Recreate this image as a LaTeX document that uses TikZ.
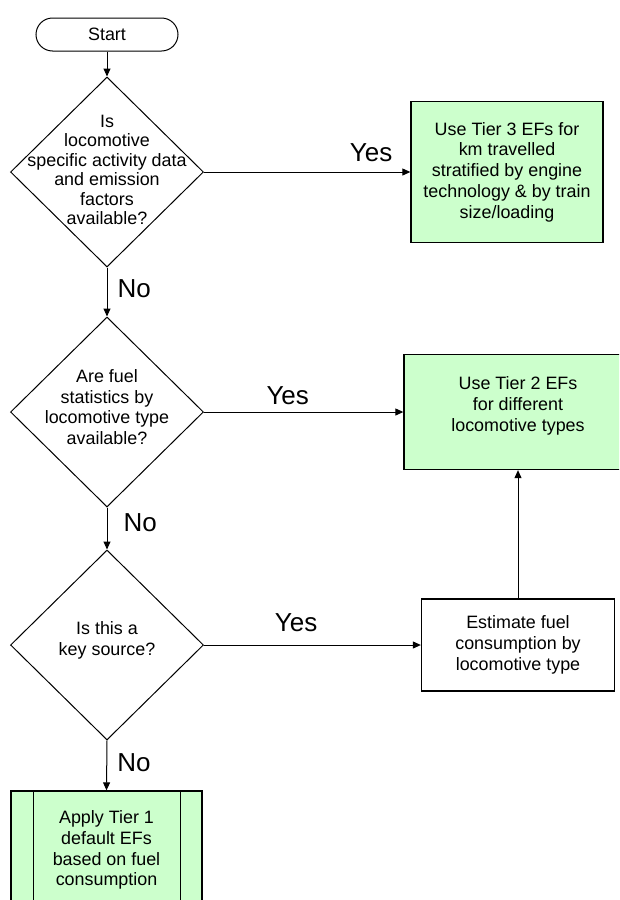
\documentclass[tikz,border=0pt]{standalone}
\usepackage{fontspec}
\setmainfont{Liberation Sans}
\usetikzlibrary{arrows.meta}
\usetikzlibrary{shapes.geometric}
\definecolor{tierfill}{HTML}{CCFFCC}

\begin{document}
\begin{tikzpicture}[x=1pt,y=-1pt,
  font=\fontsize{17.9}{20.8}\selectfont,
  every node/.style={align=center,inner sep=0pt},
  flow/.style={line width=1pt,-{Triangle[length=8pt,width=7pt]}},
  decide/.style={draw,shape=diamond,line width=1pt,minimum width=193pt,minimum height=190pt},
  greenbox/.style={draw,line width=1.3pt,fill=tierfill},
  answer/.style={font=\fontsize{26}{26}\selectfont}]
\useasboundingbox (0,0) rectangle (619,900);
\clip (0,0) rectangle (619,900);

% left column
\node[draw,line width=1pt,rounded corners=16.5pt,minimum width=142pt,minimum height=33pt] (start) at (107,34.5) {Start};
\node[decide,label={[yshift=2pt,font=\fontsize{17.9}{19.5}\selectfont]center:Is\\locomotive\\specific activity data\\and emission\\factors\\available?}] (locdata) at (107,172) {};
\node[decide,label={[yshift=5pt]center:Are fuel\\statistics by\\locomotive type\\available?}] (fuelstat) at (107,412) {};
\node[decide,label={[yshift=5pt]center:Is this a\\key source?}] (keysrc) at (107,645) {};
\node[greenbox,minimum width=191pt,minimum height=118pt] (tierone) at (106.5,850) {Apply Tier 1\\default EFs\\based on fuel\\consumption};
\draw[line width=1.3pt] ([xshift=23pt]tierone.north west) -- ([xshift=23pt]tierone.south west);
\draw[line width=1.3pt] ([xshift=-22pt]tierone.north east) -- ([xshift=-22pt]tierone.south east);

% right column
\node[greenbox,minimum width=192pt,minimum height=141pt] (tierthree) at (507,172) {Use Tier 3 EFs for\\km travelled\\stratified by engine\\technology \& by train\\size/loading};
\node[greenbox,minimum width=228pt,minimum height=115pt,text depth=16pt] (tiertwo) at (518,412) {Use Tier 2 EFs\\ for different\\locomotive types};
\node[draw,line width=1.3pt,minimum width=193pt,minimum height=92pt] (estfuel) at (518,645) {Estimate fuel\\consumption by\\locomotive type};

% arrows
\draw[flow] (start) -- (locdata.north);
\draw[flow] (locdata.east) -- (tierthree.west) node[answer,pos=0.81,above=10pt] {Yes};
\draw[flow] (locdata.south) -- (fuelstat.north) node[answer,pos=0.43,right=10pt] {No};
\draw[flow] (fuelstat.east) -- (tiertwo.west) node[answer,pos=0.42,above=7pt] {Yes};
\draw[flow] (fuelstat.south) -- (keysrc.north) node[answer,pos=0.36,right=16pt] {No};
\draw[flow] (keysrc.east) -- (estfuel.west) node[answer,pos=0.425,above=13pt] {Yes};
\draw[flow] (keysrc.south) -- (tierone.north) node[answer,pos=0.45,right=10pt] {No};
\draw[flow] (estfuel.north) -- (tiertwo.south);
\end{tikzpicture}
\end{document}
